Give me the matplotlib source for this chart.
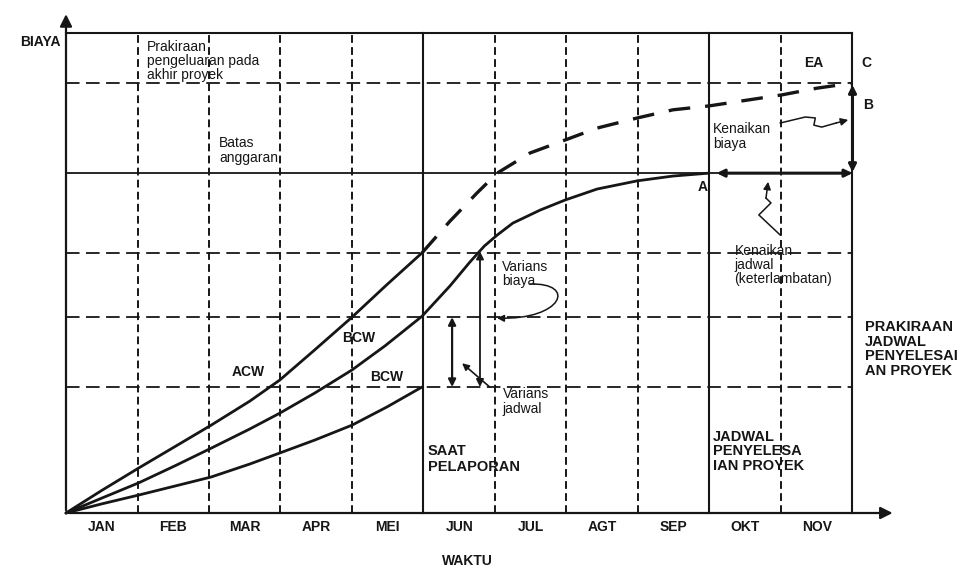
import matplotlib
matplotlib.use("Agg")
import matplotlib.pyplot as plt
from matplotlib.patches import FancyArrowPatch
from matplotlib.path import Path

# --- DATA ---
months = ['JAN', 'FEB', 'MAR', 'APR', 'MEI', 'JUN', 'JUL', 'AGT', 'SEP', 'OKT', 'NOV']
dashed_months = [1, 2, 3, 4, 6, 7, 8, 10]   # dashed month boundaries
solid_months = [5, 9, 11]                   # saat pelaporan, jadwal selesai, prakiraan selesai

top_level = 10.0       # frame top
ea_level = 8.96        # prakiraan pengeluaran pada akhir proyek
budget_level = 7.08    # batas anggaran
dashed_levels = [ea_level, 5.42, 4.08, 2.625]

# actual cost of work (ACW)
acw_x = [0, 0.5, 1.02, 1.52, 2.03, 2.57, 2.99, 3.48, 4.0, 4.49, 4.98]
acw_y = [0, 0.47, 0.94, 1.38, 1.83, 2.33, 2.77, 3.40, 4.08, 4.76, 5.42]

# budgeted cost of work scheduled (planned, up to A)
bcws_x = [0, 0.5, 1.02, 1.52, 2.03, 2.57, 2.99, 3.48, 4.0, 4.46, 4.67, 4.98, 5.37, 5.65, 5.85,
          6.03, 6.25, 6.63, 6.98, 7.43, 7.99, 8.49, 8.99]
bcws_y = [0, 0.31, 0.63, 0.98, 1.35, 1.75, 2.08, 2.50, 2.98, 3.48, 3.73, 4.10, 4.73, 5.23, 5.56,
          5.79, 6.04, 6.31, 6.52, 6.75, 6.92, 7.02, 7.08]

# budgeted cost of work performed
bcwp_x = [0, 0.5, 1.02, 1.52, 2.03, 2.57, 2.99, 3.48, 4.0, 4.49, 4.98]
bcwp_y = [0, 0.19, 0.375, 0.56, 0.75, 1.02, 1.25, 1.52, 1.83, 2.21, 2.625]

# estimate at completion (EA), dashed forecast
ea_x = [4.98, 5.37, 5.75, 6.03, 6.49, 6.98, 7.43, 7.99, 8.49, 8.99, 9.52, 10.01, 10.5, 10.97]
ea_y = [5.42, 6.08, 6.67, 7.08, 7.50, 7.77, 8.02, 8.23, 8.40, 8.48, 8.60, 8.71, 8.85, 8.95]

# --- FIGURE ---
ink = '#161616'
plt.rcParams['font.family'] = ['Liberation Sans', 'DejaVu Sans']

fig = plt.figure(figsize=(9.57, 5.68), dpi=100)
ax = fig.add_axes([0, 0, 1, 1])
ax.set_xlim(-66 / 71.5, 891 / 71.5)
ax.set_ylim(-55 / 48, 513 / 48)
ax.axis('off')

# grid: dashed month boundaries and cost levels
for m in dashed_months:
    ax.plot([m, m], [0, top_level], color=ink, lw=1.4, dashes=(4, 2.2))
for lv in dashed_levels:
    ax.plot([0, solid_months[-1]], [lv, lv], color=ink, lw=1.3, dashes=(7.5, 3.6))

# solid frame lines
for m in solid_months:
    ax.plot([m, m], [0, top_level], color=ink, lw=1.5)
ax.plot([0, solid_months[-1]], [top_level, top_level], color=ink, lw=1.5)
ax.plot([0, solid_months[-1]], [budget_level, budget_level], color=ink, lw=1.3)

# axes with arrows
ax.annotate('', xy=(11.6, 0), xytext=(0, 0),
            arrowprops=dict(arrowstyle='-|>', color=ink, lw=1.6, mutation_scale=18))
ax.annotate('', xy=(0, 10.45), xytext=(0, 0),
            arrowprops=dict(arrowstyle='-|>', color=ink, lw=1.6, mutation_scale=18))

# curves
ax.plot(acw_x, acw_y, color=ink, lw=2.0, solid_capstyle='round', solid_joinstyle='round')
ax.plot(bcws_x, bcws_y, color=ink, lw=2.0, solid_capstyle='round', solid_joinstyle='round')
ax.plot(bcwp_x, bcwp_y, color=ink, lw=2.0, solid_capstyle='round', solid_joinstyle='round')
ax.plot(ea_x, ea_y, color=ink, lw=2.4, dashes=(6.5, 4.5))

# variance arrows
arr = dict(arrowstyle='<|-|>', color=ink, lw=1.6, mutation_scale=11, shrinkA=0, shrinkB=0)
ax.annotate('', xy=(5.40, dashed_levels[2]), xytext=(5.40, dashed_levels[3]), arrowprops=arr)
ax.annotate('', xy=(5.79, 5.45), xytext=(5.79, dashed_levels[3]),
            arrowprops=dict(arr, lw=1.3))
ax.annotate('', xy=(11.0, ea_level - 0.04), xytext=(11.0, budget_level + 0.02),
            arrowprops=dict(arr, lw=2.2))
ax.annotate('', xy=(9.1, budget_level), xytext=(11.0, budget_level),
            arrowprops=dict(arr, lw=2.2))

# leaders
lead = dict(arrowstyle='-|>', color=ink, lw=1.1, mutation_scale=10, shrinkA=0, shrinkB=0)
ax.annotate('', xy=(5.54, 3.12), xytext=(5.93, 2.62), arrowprops=dict(lead, lw=1.2))
loop = Path([(6.49, 4.77), (7.15, 4.80), (6.95, 4.02), (6.03, 4.06)],
            [Path.MOVETO, Path.CURVE4, Path.CURVE4, Path.CURVE4])
ax.add_patch(FancyArrowPatch(path=loop, arrowstyle='-|>', color=ink, lw=1.1, mutation_scale=10))
ax.plot([9.99, 10.34, 10.48, 10.46, 10.57, 10.77], [8.125, 8.25, 8.23, 8.08, 8.04, 8.125], color=ink, lw=1.1)
ax.annotate('', xy=(10.94, 8.19), xytext=(10.77, 8.125), arrowprops=dict(lead, mutation_scale=11))
ax.plot([9.99, 9.69, 9.86, 9.79], [5.79, 6.21, 6.46, 6.56], color=ink, lw=1.1)
ax.annotate('', xy=(9.82, 6.90), xytext=(9.79, 6.56), arrowprops=dict(lead, mutation_scale=11))

# --- TEXT ---
bold = dict(color=ink, fontsize=10, fontweight='bold')
thin = dict(color=ink, fontsize=10)
block = dict(color=ink, fontsize=10.5, fontweight='bold')

for i, m in enumerate(months):
    ax.text(i + 0.5, -0.29, m, ha='center', va='center', **bold)
ax.text(5.62, -1.01, 'WAKTU', ha='center', va='center', **bold)
ax.text(-0.07, 9.81, 'BIAYA', ha='right', va='center', **bold)

ax.text(1.13, 9.42, 'Prakiraan\npengeluaran pada\nakhir proyek', ha='left', va='center',
        linespacing=1.0, **thin)
ax.text(2.14, 7.55, 'Batas\nanggaran', ha='left', va='center', linespacing=1.05, **thin)
ax.text(10.46, 9.375, 'EA', ha='center', va='center', **bold)
ax.text(11.2, 9.375, 'C', ha='center', va='center', **bold)
ax.text(11.22, 8.5, 'B', ha='center', va='center', **bold)
ax.text(8.9, 6.79, 'A', ha='center', va='center', **bold)
ax.text(9.05, 7.84, 'Kenaikan\nbiaya', ha='left', va='center', linespacing=1.05, **thin)
ax.text(9.35, 5.17, 'Kenaikan\njadwal\n(keterlambatan)', ha='left', va='center', linespacing=1.0, **thin)
ax.text(6.1, 4.97, 'Varians\nbiaya', ha='left', va='center', linespacing=1.0, **thin)
ax.text(6.11, 2.33, 'Varians\njadwal', ha='left', va='center', linespacing=1.1, **thin)
ax.text(2.55, 2.94, 'ACW', ha='center', va='center', **bold)
ax.text(4.1, 3.65, 'BCW', ha='center', va='center', **bold)
ax.text(4.49, 2.83, 'BCW', ha='center', va='center', **bold)
ax.text(5.06, 1.125, 'SAAT\nPELAPORAN', ha='left', va='center', linespacing=1.2, **block)
ax.text(9.05, 1.29, 'JADWAL\nPENYELESA\nIAN PROYEK', ha='left', va='center', linespacing=1.05, **block)
ax.text(11.17, 3.42, 'PRAKIRAAN\nJADWAL\nPENYELESAI\nAN PROYEK', ha='left', va='center',
        linespacing=1.05, **block)

fig.savefig('out.png', dpi=100, facecolor='white')
